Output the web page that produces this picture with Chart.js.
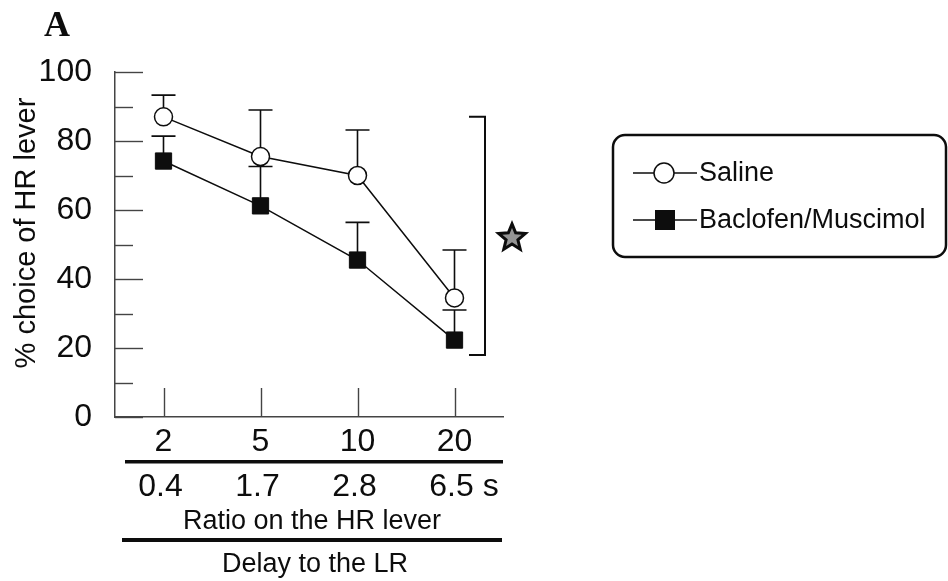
<!DOCTYPE html>
<html><head><meta charset="utf-8">
<script src="https://cdn.jsdelivr.net/npm/chart.js@4.4.1/dist/chart.umd.min.js"></script>
<style>html,body{margin:0;padding:0;background:#fff;}</style>
</head><body>
<canvas id="c" width="948" height="581"></canvas>
<script>
// ---- data ----
const ratioLabels = ['2', '5', '10', '20'];
const delayLabels = ['0.4', '1.7', '2.8', '6.5'];
const delayUnit = 's';
const seriesNames = ['Saline', 'Baclofen/Muscimol'];
const salineMean = [87, 75.5, 70, 34.5];
const salineSEM = [6.3, 13.5, 13.2, 13.9];
const bacMean = [74.2, 61.2, 45.5, 22.3];
const bacSEM = [7.2, 11.4, 10.9, 8.7];
const yTickValues = [0, 20, 40, 60, 80, 100];
const sigRange = [87, 18];
const panelLabel = 'A';
const yTitle = '% choice of HR lever';
const xTitle1 = 'Ratio on the HR lever';
const xTitle2 = 'Delay to the LR';

const SANS = '"Liberation Sans", Arial, Helvetica, sans-serif';
const INK = '#0d0d0d';

const errs = [salineSEM, bacSEM];

const errorBars = {
  id: 'errorBars',
  beforeDatasetsDraw(chart) {
    const ctx = chart.ctx, ys = chart.scales.y;
    ctx.save();
    ctx.strokeStyle = INK; ctx.lineWidth = 1.6;
    chart.data.datasets.forEach((ds, i) => {
      const meta = chart.getDatasetMeta(i);
      meta.data.forEach((pt, j) => {
        const y0 = ys.getPixelForValue(ds.data[j]);
        const y1 = ys.getPixelForValue(ds.data[j] + errs[i][j]);
        ctx.beginPath();
        ctx.moveTo(pt.x, y0); ctx.lineTo(pt.x, y1);
        ctx.moveTo(pt.x - 12, y1); ctx.lineTo(pt.x + 12, y1);
        ctx.stroke();
      });
    });
    ctx.restore();
  }
};

const decor = {
  id: 'decor',
  afterDraw(chart) {
    const ctx = chart.ctx, xs = chart.scales.x, ys = chart.scales.y, ca = chart.chartArea;
    ctx.save();
    // y ticks inward
    ctx.strokeStyle = '#444'; ctx.lineWidth = 1.4;
    for (let v = 0; v <= 100; v += 10) {
      const y = Math.round(ys.getPixelForValue(v)) + 0.5;
      const len = (v % 20 === 0) ? 28 : 18;
      ctx.beginPath(); ctx.moveTo(ca.left, y); ctx.lineTo(ca.left + len, y); ctx.stroke();
    }
    // x ticks upward
    ratioLabels.forEach((l, i) => {
      const x = Math.round(xs.getPixelForValue(i)) + 0.5;
      ctx.beginPath(); ctx.moveTo(x, ca.bottom); ctx.lineTo(x, ca.bottom - 29); ctx.stroke();
    });
    // significance bracket
    const by0 = ys.getPixelForValue(sigRange[0]), by1 = ys.getPixelForValue(sigRange[1]);
    const bx = ca.right - 18;
    ctx.strokeStyle = INK; ctx.lineWidth = 2;
    ctx.beginPath();
    ctx.moveTo(bx - 16, by0); ctx.lineTo(bx, by0); ctx.lineTo(bx, by1); ctx.lineTo(bx - 16, by1);
    ctx.stroke();
    // star
    const sx = ca.right + 9, sy = (by0 + by1) / 2 + 2, R = 14, r = 6.2;
    ctx.beginPath();
    for (let k = 0; k < 10; k++) {
      const a = -Math.PI / 2 + k * Math.PI / 5;
      const rr = k % 2 === 0 ? R : r;
      const px = sx + rr * Math.cos(a), py = sy + rr * Math.sin(a);
      k === 0 ? ctx.moveTo(px, py) : ctx.lineTo(px, py);
    }
    ctx.closePath();
    ctx.fillStyle = '#959595'; ctx.fill();
    ctx.lineWidth = 3; ctx.lineJoin = 'miter'; ctx.strokeStyle = INK; ctx.stroke();

    // second row of x labels
    ctx.fillStyle = INK;
    ctx.font = '32px ' + SANS;
    ctx.textBaseline = 'middle'; ctx.textAlign = 'center';
    delayLabels.forEach((l, i) => {
      const x = xs.getPixelForValue(i) - 3;
      ctx.fillText(l, x, 487);
      if (i === delayLabels.length - 1) {
        const w = ctx.measureText(l).width;
        ctx.textAlign = 'left';
        ctx.fillText(' ' + delayUnit, x + w / 2, 487);
        ctx.textAlign = 'center';
      }
    });
    // rules
    ctx.fillRect(125, 460, 378, 3.5);
    ctx.fillRect(122, 538, 380, 4);
    ctx.font = '27px ' + SANS;
    ctx.fillText(xTitle1, 312, 522);
    ctx.fillText(xTitle2, 315, 565);
    // y title
    ctx.save();
    ctx.translate(27, 233); ctx.rotate(-Math.PI / 2);
    ctx.font = '29px ' + SANS;
    ctx.fillText(yTitle, 0, 0);
    ctx.restore();
    // panel label
    ctx.font = 'bold 36px "Liberation Serif", "Times New Roman", serif';
    ctx.textAlign = 'left'; ctx.textBaseline = 'alphabetic';
    ctx.fillText(panelLabel, 44, 36);

    // legend
    const lx = 613, ly = 135, lw = 333, lh = 122, rad = 12;
    ctx.lineWidth = 2.5; ctx.strokeStyle = INK;
    ctx.beginPath();
    ctx.moveTo(lx + rad, ly); ctx.lineTo(lx + lw - rad, ly); ctx.arcTo(lx + lw, ly, lx + lw, ly + rad, rad);
    ctx.lineTo(lx + lw, ly + lh - rad); ctx.arcTo(lx + lw, ly + lh, lx + lw - rad, ly + lh, rad);
    ctx.lineTo(lx + rad, ly + lh); ctx.arcTo(lx, ly + lh, lx, ly + lh - rad, rad);
    ctx.lineTo(lx, ly + rad); ctx.arcTo(lx, ly, lx + rad, ly, rad);
    ctx.closePath(); ctx.stroke();
    const rows = [173, 220];
    ctx.font = '27px ' + SANS; ctx.textBaseline = 'middle'; ctx.textAlign = 'left';
    chart.data.datasets.forEach((ds, i) => {
      const y = rows[i];
      ctx.lineWidth = 1.5; ctx.strokeStyle = INK;
      ctx.beginPath(); ctx.moveTo(633, y); ctx.lineTo(697, y); ctx.stroke();
      if (i === 0) {
        ctx.beginPath(); ctx.arc(664, y, 10, 0, Math.PI * 2);
        ctx.fillStyle = '#fff'; ctx.fill(); ctx.stroke();
      } else {
        ctx.fillStyle = INK; ctx.fillRect(655, y - 10, 20, 20);
      }
      ctx.fillStyle = INK;
      ctx.fillText(ds.label, 699, y + 1);
    });
    ctx.restore();
  }
};

new Chart(document.getElementById('c'), {
  type: 'line',
  data: {
    labels: ratioLabels,
    datasets: [
      { label: seriesNames[0], data: salineMean, borderColor: INK, borderWidth: 1.5,
        pointStyle: 'circle', pointRadius: 9, pointBackgroundColor: '#fff',
        pointBorderColor: INK, pointBorderWidth: 1.5, tension: 0, fill: false },
      { label: seriesNames[1], data: bacMean, borderColor: INK, borderWidth: 1.5,
        pointStyle: 'rect', pointRadius: 11.5, pointBackgroundColor: INK,
        pointBorderColor: INK, pointBorderWidth: 1, tension: 0, fill: false }
    ]
  },
  options: {
    responsive: false, animation: false, devicePixelRatio: 1,
    layout: { padding: { left: 0, top: 72, right: 445, bottom: 0 } },
    plugins: { legend: { display: false }, tooltip: { enabled: false }, title: { display: false } },
    scales: {
      x: {
        type: 'category', offset: true,
        grid: { display: false, drawTicks: false },
        border: { display: true, color: '#444', width: 1.5 },
        ticks: { font: { family: SANS, size: 32 }, color: INK, padding: 6, maxRotation: 0, autoSkip: false },
        afterFit: s => { s.height = 164; }
      },
      y: {
        min: 0, max: 100,
        afterBuildTicks: s => { s.ticks = yTickValues.map(v => ({ value: v })); },
        grid: { display: false, drawTicks: false },
        border: { display: true, color: '#444', width: 1.5 },
        ticks: { font: { family: SANS, size: 32 }, color: INK, padding: 23 },
        afterFit: s => { s.width = 115; }
      }
    }
  },
  plugins: [errorBars, decor]
});
</script>
</body></html>
